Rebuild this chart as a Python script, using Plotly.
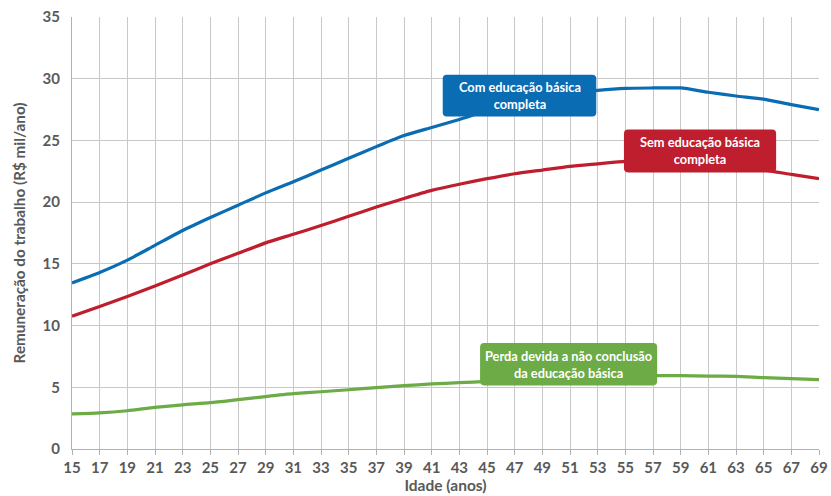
import plotly.graph_objects as go

# Idade (anos) e remuneração anual (R$ mil/ano)
idade = list(range(15, 70, 2))
com_educacao = [13.45, 14.3, 15.3, 16.5, 17.7, 18.75, 19.75, 20.75, 21.65, 22.6, 23.55, 24.5, 25.4,
                26.05, 26.7, 27.4, 27.95, 28.4, 28.8, 29.05, 29.22, 29.25, 29.25, 28.9, 28.6, 28.35, 27.9, 27.5]
sem_educacao = [10.75, 11.55, 12.35, 13.2, 14.1, 15.0, 15.85, 16.7, 17.4, 18.1, 18.85, 19.6, 20.3,
                20.95, 21.45, 21.9, 22.3, 22.6, 22.9, 23.1, 23.3, 23.35, 23.35, 23.0, 22.75, 22.6, 22.25, 21.9]
perda = [2.84, 2.92, 3.1, 3.37, 3.58, 3.75, 4.0, 4.25, 4.48, 4.64, 4.8, 4.97, 5.13,
         5.27, 5.37, 5.48, 5.62, 5.72, 5.82, 5.9, 5.94, 5.94, 5.94, 5.91, 5.88, 5.78, 5.7, 5.62]

azul = "#0a6db3"
vermelho = "#be1e2d"
verde = "#6cab46"
cinza_texto = "#595959"
cinza_grade = "#c8c8c8"

fig = go.Figure()
for y, cor in [(com_educacao, azul), (sem_educacao, vermelho), (perda, verde)]:
    fig.add_trace(go.Scatter(x=idade, y=y, mode="lines", line=dict(color=cor, width=3.2, shape="spline", smoothing=0.6),
                             hoverinfo="skip", showlegend=False))


def caixa_arredondada(x0, x1, y0, y1, cor, rx=0.3, ry=0.33):
    path = (f"M {x0+rx},{y0} L {x1-rx},{y0} Q {x1},{y0} {x1},{y0+ry} "
            f"L {x1},{y1-ry} Q {x1},{y1} {x1-rx},{y1} L {x0+rx},{y1} Q {x0},{y1} {x0},{y1-ry} "
            f"L {x0},{y0+ry} Q {x0},{y0} {x0+rx},{y0} Z")
    return dict(type="path", path=path, xref="x", yref="y", fillcolor=cor, line=dict(width=0), layer="above")


# Rótulos das séries: (texto, cor, x0, x1, y0, y1)
rotulos = [
    ("Com educação básica<br>completa", azul, 41.8, 52.9, 26.93, 30.33),
    ("Sem educação básica<br>completa", vermelho, 54.9, 65.9, 22.41, 25.88),
    ("Perda devida a não conclusão<br>da educação básica", verde, 44.5, 57.3, 5.15, 8.59),
]
shapes = []
annotations = []
for texto, cor, x0, x1, y0, y1 in rotulos:
    shapes.append(caixa_arredondada(x0, x1, y0, y1, cor))
    annotations.append(dict(x=(x0 + x1) / 2, y=(y0 + y1) / 2, xref="x", yref="y", text=texto, showarrow=False,
                            align="center", font=dict(family="Lato", size=12.8, color="white", weight="bold")))

fig.update_layout(
    width=831, height=496,
    margin=dict(l=72, r=12, t=17, b=47),
    plot_bgcolor="white", paper_bgcolor="white",
    shapes=shapes, annotations=annotations,
    xaxis=dict(range=[15, 69], tickmode="array", tickvals=idade, ticktext=[str(i) for i in idade],
               automargin=False,
               showgrid=True, gridcolor=cinza_grade, gridwidth=1.3, zeroline=False,
               showline=True, linecolor="#b0b0b0", linewidth=1.3, ticks="outside", ticklen=5,
               tickcolor="#b0b0b0", tickwidth=1.3,
               tickfont=dict(family="Lato", size=15, color=cinza_texto, weight="bold"),
               title=dict(text="Idade (anos)", standoff=3,
                          font=dict(family="Lato", size=15.5, color=cinza_texto, weight="bold"))),
    yaxis=dict(range=[0, 35], dtick=5, showgrid=True, gridcolor=cinza_grade, gridwidth=1.3, zeroline=False,
               automargin=False,
               showline=True, linecolor="#b0b0b0", linewidth=1.3, ticks="", ticklabelstandoff=8,
               tickfont=dict(family="Lato", size=15, color=cinza_texto, weight="bold"),
               title=dict(text="Remuneração do trabalho (R$ mil/ano)", standoff=13,
                          font=dict(family="Lato", size=15.3, color=cinza_texto, weight="bold"))),
)

fig.write_html("out.html")
